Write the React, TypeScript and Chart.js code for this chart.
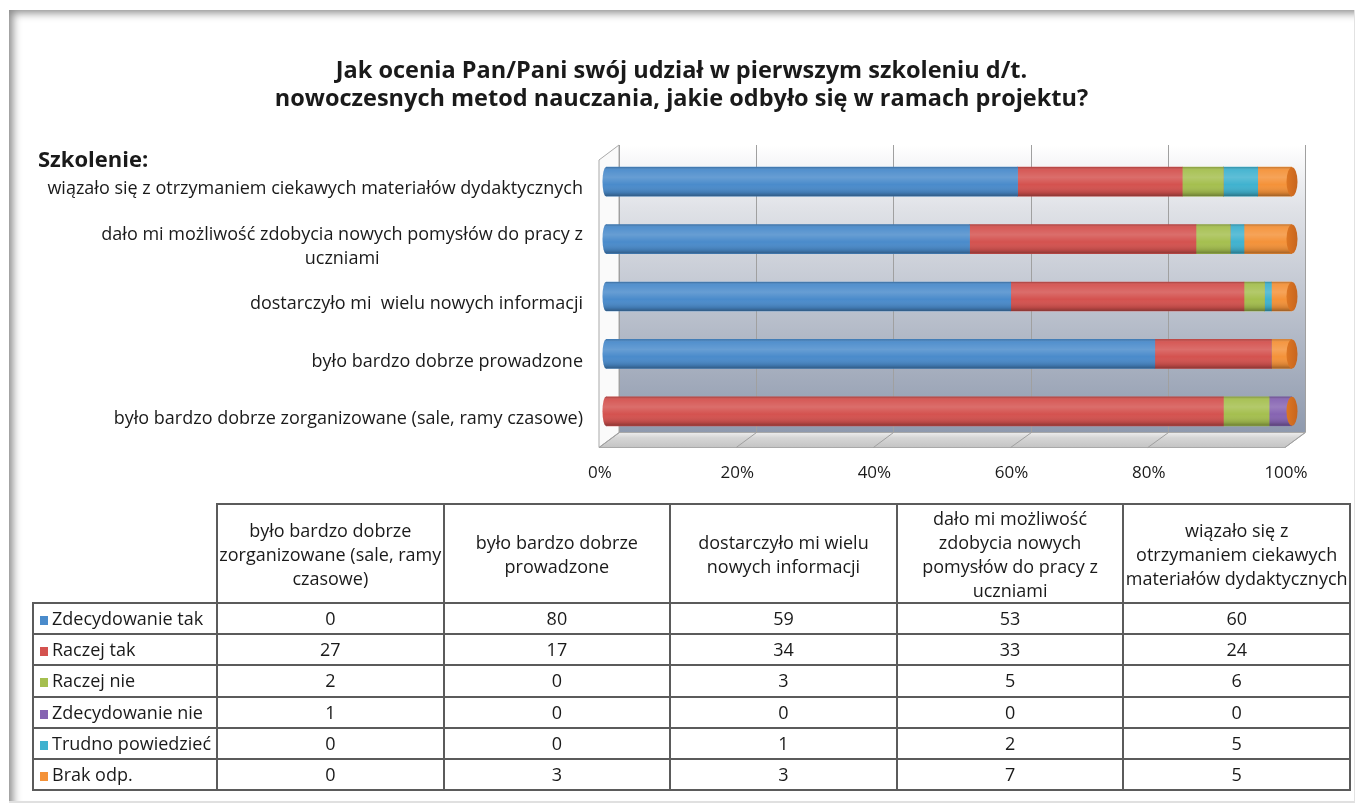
import React, { useEffect, useRef } from "react";
import { Chart, registerables } from "chart.js";

Chart.register(...registerables);

// ---------- data ----------
const categories = [
  "było bardzo dobrze zorganizowane (sale, ramy czasowe)",
  "było bardzo dobrze prowadzone",
  "dostarczyło mi  wielu nowych informacji",
  "dało mi możliwość zdobycia nowych pomysłów do pracy z uczniami",
  "wiązało się z otrzymaniem ciekawych materiałów dydaktycznych",
];
const axisLabelLines = [
  ["było bardzo dobrze zorganizowane (sale, ramy czasowe)"],
  ["było bardzo dobrze prowadzone"],
  ["dostarczyło mi  wielu nowych informacji"],
  ["dało mi możliwość zdobycia nowych pomysłów do pracy z", "uczniami"],
  ["wiązało się z otrzymaniem ciekawych materiałów dydaktycznych"],
];
const tableHeaderLines = [
  ["było bardzo dobrze", "zorganizowane (sale, ramy", "czasowe)"],
  ["było bardzo dobrze", "prowadzone"],
  ["dostarczyło mi  wielu", "nowych informacji"],
  ["dało mi możliwość", "zdobycia nowych", "pomysłów do pracy z", "uczniami"],
  ["wiązało się z", "otrzymaniem ciekawych", "materiałów dydaktycznych"],
];
const seriesNames = [
  "Zdecydowanie tak",
  "Raczej tak",
  "Raczej nie",
  "Zdecydowanie nie",
  "Trudno powiedzieć",
  "Brak odp.",
];
const zdecydowanieTak = [0, 80, 59, 53, 60];
const raczejTak = [27, 17, 34, 33, 24];
const raczejNie = [2, 0, 3, 5, 6];
const zdecydowanieNie = [1, 0, 0, 0, 0];
const trudnoPowiedziec = [0, 0, 1, 2, 5];
const brakOdp = [0, 3, 3, 7, 5];
const xTicks = [0, 20, 40, 60, 80, 100];

const seriesValues = [zdecydowanieTak, raczejTak, raczejNie, zdecydowanieNie, trudnoPowiedziec, brakOdp];
const seriesColors = ["#4a8bcb", "#d4524f", "#a5bf4f", "#8664b2", "#40b2cf", "#f49239"];
const capColor = "#c8661f";
const FONT = "'Open Sans', Lato, sans-serif";

const totals = categories.map((_, i) => seriesValues.reduce((s, arr) => s + arr[i], 0));
const percentSeries = seriesValues.map((arr) => arr.map((v, i) => (v / totals[i]) * 100));

// 3D offsets
const FRONT_DX = 7;
const BACK_DX = 13;
const DY = 7.5;
const BAR_H = 29;

const wallsPlugin = {
  id: "walls3d",
  beforeDatasetsDraw(chart: any) {
    const ctx = chart.ctx;
    const xs = chart.scales.x;
    const { top, bottom } = chart.chartArea;
    const backTop = top - 8;
    const backBottom = bottom - DY;
    const frontBottom = bottom + DY;
    const bx0 = xs.getPixelForValue(0) + BACK_DX;
    const bx1 = xs.getPixelForValue(100) + BACK_DX;
    const fx0 = xs.getPixelForValue(0) - FRONT_DX;
    const fx1 = xs.getPixelForValue(100) - FRONT_DX;
    ctx.save();
    // back wall
    const g = ctx.createLinearGradient(0, backTop, 0, backBottom);
    g.addColorStop(0, "#ffffff");
    g.addColorStop(0.22, "#e0e2e7");
    g.addColorStop(1, "#8f9aae");
    ctx.fillStyle = g;
    ctx.fillRect(bx0, backTop, bx1 - bx0, backBottom - backTop);
    // floor
    const fg = ctx.createLinearGradient(0, backBottom, 0, frontBottom);
    fg.addColorStop(0, "#eeeeee");
    fg.addColorStop(0.35, "#d6d6d6");
    fg.addColorStop(1, "#c4c4c4");
    ctx.beginPath();
    ctx.moveTo(bx0, backBottom);
    ctx.lineTo(bx1, backBottom);
    ctx.lineTo(fx1, frontBottom);
    ctx.lineTo(fx0, frontBottom);
    ctx.closePath();
    ctx.fillStyle = fg;
    ctx.fill();
    ctx.strokeStyle = "#a9a9a9";
    ctx.lineWidth = 1;
    ctx.stroke();
    // left wall
    ctx.beginPath();
    ctx.moveTo(fx0, backTop + 2 * DY);
    ctx.lineTo(bx0, backTop);
    ctx.lineTo(bx0, backBottom);
    ctx.lineTo(fx0, frontBottom);
    ctx.closePath();
    ctx.fillStyle = "#fafafa";
    ctx.fill();
    ctx.strokeStyle = "#a9a9a9";
    ctx.stroke();
    // grid lines: back wall + floor
    ctx.strokeStyle = "#a0a0a0";
    xTicks.forEach((v) => {
      const px = xs.getPixelForValue(v);
      ctx.beginPath();
      ctx.moveTo(Math.round(px + BACK_DX) + 0.5, backTop);
      ctx.lineTo(Math.round(px + BACK_DX) + 0.5, backBottom);
      ctx.lineTo(px - FRONT_DX, frontBottom);
      ctx.stroke();
    });
    ctx.restore();
  },
  afterDatasetsDraw(chart: any) {
    const ctx = chart.ctx;
    const xs = chart.scales.x;
    const ys = chart.scales.y;
    const x0 = xs.getPixelForValue(0);
    const x1 = xs.getPixelForValue(100);
    categories.forEach((_, i) => {
      const yc = ys.getPixelForValue(i);
      const h = BAR_H;
      const r = h / 2;
      let first = 0;
      while (first < seriesValues.length - 1 && seriesValues[first][i] === 0) first++;
      ctx.save();
      // left rounded end
      ctx.beginPath();
      ctx.ellipse(x0, yc, 3.5, r, 0, 0, Math.PI * 2);
      ctx.fillStyle = seriesColors[first];
      ctx.fill();
      // shading
      ctx.beginPath();
      ctx.ellipse(x0, yc, 3.5, r, 0, Math.PI / 2, Math.PI * 1.5);
      ctx.lineTo(x1, yc - r);
      ctx.lineTo(x1, yc + r);
      ctx.closePath();
      const sg = ctx.createLinearGradient(0, yc - r, 0, yc + r);
      sg.addColorStop(0, "rgba(0,0,0,0.22)");
      sg.addColorStop(0.1, "rgba(255,255,255,0.05)");
      sg.addColorStop(0.35, "rgba(255,255,255,0.16)");
      sg.addColorStop(0.6, "rgba(255,255,255,0.0)");
      sg.addColorStop(0.88, "rgba(0,0,0,0.13)");
      sg.addColorStop(1, "rgba(0,0,0,0.34)");
      ctx.fillStyle = sg;
      ctx.fill();
      // right cap
      ctx.beginPath();
      ctx.ellipse(x1, yc, 5.5, r, 0, 0, Math.PI * 2);
      const cg = ctx.createLinearGradient(x1 - 5, 0, x1 + 5, 0);
      cg.addColorStop(0, "#dc7522");
      cg.addColorStop(1, capColor);
      ctx.fillStyle = cg;
      ctx.fill();
      ctx.restore();
    });
  },
  afterDraw(chart: any) {
    const ctx = chart.ctx;
    const ys = chart.scales.y;
    ctx.save();
    ctx.font = `18px ${FONT}`;
    ctx.fillStyle = "#1a1a1a";
    ctx.textBaseline = "middle";
    ctx.textAlign = "center";
    const right = 583;
    const lh = 24;
    axisLabelLines.forEach((lines, i) => {
      const yc = ys.getPixelForValue(i) + DY;
      const maxW = Math.max(...lines.map((l) => ctx.measureText(l).width));
      const cx = right - maxW / 2;
      const y0 = yc - ((lines.length - 1) * lh) / 2;
      lines.forEach((l, k) => ctx.fillText(l, cx, y0 + k * lh));
    });
    ctx.restore();
  },
};

function ChartCanvas() {
  const ref = useRef<HTMLCanvasElement | null>(null);
  useEffect(() => {
    if (!ref.current) return;
    const chart = new Chart(ref.current, {
      type: "bar",
      data: {
        labels: categories,
        datasets: seriesNames.map((name, k) => ({
          label: name,
          data: percentSeries[k],
          backgroundColor: seriesColors[k],
          borderWidth: 0,
          barThickness: BAR_H,
        })),
      },
      options: {
        indexAxis: "y",
        responsive: false,
        animation: false,
        events: [],
        layout: { padding: { top: 153, bottom: 305, left: 0, right: 67 } },
        plugins: {
          legend: { display: false },
          tooltip: { enabled: false },
          title: { display: false },
        },
        scales: {
          x: {
            stacked: true,
            min: 0,
            max: 100,
            afterBuildTicks: (s: any) => {
              s.ticks = xTicks.map((v) => ({ value: v }));
            },
            afterFit: (s: any) => {
              s.height = 60;
            },
            grid: { display: false, drawTicks: false },
            border: { display: false },
            ticks: {
              callback: (v: any) => `${v}%`,
              labelOffset: -6,
              padding: 23,
              autoSkip: false,
              maxRotation: 0,
              color: "#1a1a1a",
              font: { family: FONT, size: 17 },
            },
          },
          y: {
            stacked: true,
            reverse: true,
            afterFit: (s: any) => {
              s.width = 606;
            },
            grid: { display: false, drawTicks: false },
            border: { display: false },
            ticks: { display: false },
          },
        },
      },
      plugins: [wallsPlugin],
    } as any);
    return () => chart.destroy();
  }, []);
  return <canvas ref={ref} width={1359} height={805} style={{ position: "absolute", left: 0, top: 0 }} />;
}

const cellBorder = "2px solid #5b5b5b";

export default function App() {
  return (
    <div
      style={{
        position: "absolute",
        left: 0,
        top: 0,
        width: 1359,
        height: 805,
        background: "#ffffff",
        fontFamily: FONT,
        color: "#1a1a1a",
        overflow: "hidden",
      }}
    >
      <div
        style={{
          position: "absolute",
          left: 9,
          top: 10,
          width: 1345,
          height: 791,
          boxShadow: "inset 7px 6px 8px -3px rgba(0,0,0,0.45)",
          borderRight: "1px solid #e2e2e2",
          borderBottom: "2px solid #e0e0e0",
        }}
      />
      <ChartCanvas />
      <div
        style={{
          position: "absolute",
          left: 9,
          width: 1345,
          top: 55,
          textAlign: "center",
          fontWeight: 700,
          fontSize: 23.5,
          lineHeight: "28px",
        }}
      >
        Jak ocenia Pan/Pani swój udział w pierwszym szkoleniu d/t.
        <br />
        nowoczesnych metod nauczania, jakie odbyło się w ramach projektu?
      </div>
      <div
        style={{
          position: "absolute",
          left: 38,
          top: 144,
          fontWeight: 700,
          fontSize: 22,
          lineHeight: "28px",
        }}
      >
        Szkolenie:
      </div>
      <table
        style={{
          position: "absolute",
          left: 32,
          top: 503,
          width: 1317,
          borderCollapse: "collapse",
          tableLayout: "fixed",
          fontSize: 18,
        }}
      >
        <colgroup>
          <col style={{ width: 184 }} />
          {categories.map((c) => (
            <col key={c} style={{ width: 226.6 }} />
          ))}
        </colgroup>
        <tbody>
          <tr style={{ height: 99 }}>
            <td style={{ border: "none", padding: 0 }} />
            {tableHeaderLines.map((lines, i) => (
              <td
                key={i}
                style={{
                  border: cellBorder,
                  textAlign: "center",
                  verticalAlign: "middle",
                  padding: 0,
                  lineHeight: "24px",
                  whiteSpace: "nowrap",
                  overflow: "hidden",
                }}
              >
                {lines.map((l, k) => (
                  <div key={k}>{l}</div>
                ))}
              </td>
            ))}
          </tr>
          {seriesNames.map((name, k) => (
            <tr key={name} style={{ height: 31.2 }}>
              <td style={{ border: cellBorder, padding: "0 0 0 6px", whiteSpace: "nowrap", overflow: "hidden", lineHeight: "27px" }}>
                <span
                  style={{
                    display: "inline-block",
                    width: 8,
                    height: 9,
                    background: seriesColors[k],
                    marginRight: 4,
                  }}
                />
                {name}
              </td>
              {seriesValues[k].map((v, i) => (
                <td key={i} style={{ border: cellBorder, textAlign: "center", padding: 0, lineHeight: "27px" }}>
                  {v}
                </td>
              ))}
            </tr>
          ))}
        </tbody>
      </table>
    </div>
  );
}
